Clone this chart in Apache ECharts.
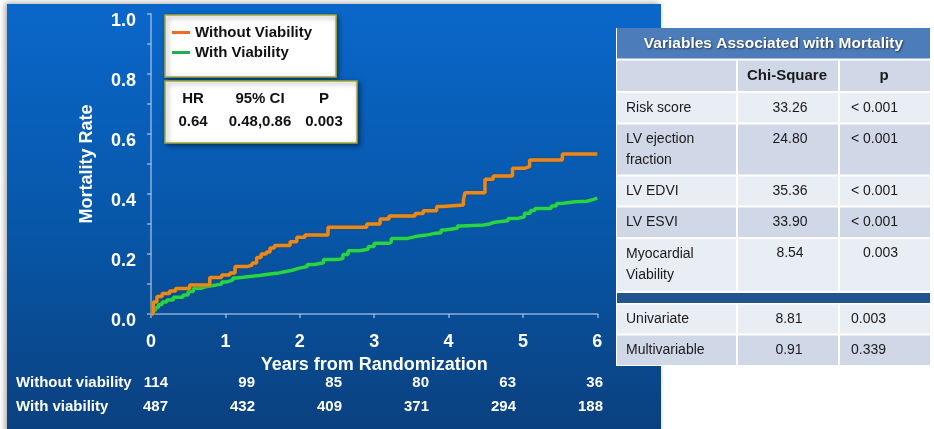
<!DOCTYPE html>
<html>
<head>
<meta charset="utf-8">
<script src="https://cdn.jsdelivr.net/npm/echarts@6/dist/echarts.min.js"></script>
<style>
html,body{margin:0;padding:0;background:#fff;}
#chart{width:934px;height:429px;}
</style>
</head>
<body>
<div id="chart"></div>
<script>
// Cumulative mortality (Kaplan-Meier steps): [years, rate]
const withoutViability = [
  [0,0],[0.03,0.04],[0.08,0.058],[0.15,0.068],[0.25,0.077],[0.33,0.085],[0.52,0.097],
  [0.79,0.122],[0.95,0.13],[1.06,0.137],[1.13,0.158],[1.29,0.163],[1.36,0.17],[1.42,0.188],
  [1.48,0.2],[1.55,0.207],[1.6,0.22],[1.66,0.228],[1.87,0.241],[1.96,0.256],[2.07,0.263],
  [2.38,0.289],[2.9,0.3],[3.08,0.317],[3.2,0.327],[3.55,0.335],[3.66,0.344],[3.84,0.358],
  [3.92,0.363],[4.2,0.38],[4.22,0.404],[4.49,0.449],[4.6,0.46],[4.86,0.486],[5.03,0.491],
  [5.09,0.513],[5.53,0.533],[6.0,0.533]
];
const withViability = [
  [0,0],[0.03,0.012],[0.06,0.022],[0.1,0.032],[0.15,0.04],[0.21,0.047],[0.3,0.056],[0.43,0.063],
  [0.5,0.075],[0.57,0.086],[0.68,0.092],[0.75,0.097],[0.88,0.1],[0.95,0.107],[1.02,0.113],
  [1.1,0.12],[1.15,0.124],[1.3,0.128],[1.45,0.133],[1.6,0.137],[1.72,0.141],[1.8,0.146],
  [1.9,0.152],[1.98,0.158],[2.1,0.165],[2.2,0.171],[2.32,0.182],[2.52,0.185],[2.58,0.198],
  [2.65,0.211],[2.8,0.216],[2.92,0.225],[3.0,0.236],[3.2,0.24],[3.23,0.252],[3.45,0.258],
  [3.55,0.263],[3.7,0.268],[3.8,0.271],[3.9,0.28],[3.95,0.286],[4.12,0.293],[4.18,0.297],
  [4.47,0.3],[4.55,0.306],[4.62,0.311],[4.8,0.318],[4.92,0.324],[5.02,0.336],[5.1,0.345],
  [5.16,0.352],[5.38,0.36],[5.45,0.368],[5.52,0.374],[5.7,0.376],[5.86,0.382],[5.95,0.386],
  [6.0,0.386]
];
const seriesNames = ['Without Viability', 'With Viability'];

// Numbers at risk
const atRiskGroups = ['Without viability', 'With viability'];
const atRiskWithout = [114, 99, 85, 80, 63, 36];
const atRiskWith = [487, 432, 409, 371, 294, 188];

// Hazard ratio box
const hrHeader = ['HR', '95% CI', 'P'];
const hrValues = ['0.64', '0.48,0.86', '0.003'];

// Side table
const tableTitle = 'Variables Associated with Mortality';
const tableColumns = ['Chi-Square', 'p'];
const tableVariables = ['Risk score', 'LV ejection\nfraction', 'LV EDVI', 'LV ESVI', 'Myocardial\nViability'];
const tableChiSquare = ['33.26', '24.80', '35.36', '33.90', '8.54'];
const tableP = ['< 0.001', '< 0.001', '< 0.001', '< 0.001', '0.003'];
const testNames = ['Univariate', 'Multivariable'];
const testChiSquare = ['8.81', '0.91'];
const testP = ['0.003', '0.339'];

const FONT = '"Liberation Sans", Arial, sans-serif';
const chart = echarts.init(document.getElementById('chart'), null, { renderer: 'canvas' });

const graphics = [];

// blue panel behind the plot
graphics.push({
  type: 'rect', z: -10,
  shape: { x: 7, y: 4, width: 654, height: 440 },
  style: {
    fill: new echarts.graphic.LinearGradient(0, 0, 0, 1, [
      { offset: 0, color: '#0a67ca' },
      { offset: 0.5, color: '#0757a9' },
      { offset: 1, color: '#0b3f7c' }
    ]),
    shadowBlur: 6, shadowColor: 'rgba(0,0,0,0.35)', shadowOffsetX: -2, shadowOffsetY: -1
  }
});

// hazard ratio box
graphics.push({
  type: 'rect', z: 10,
  shape: { x: 165, y: 81, width: 192, height: 62 },
  style: { fill: '#fff', stroke: '#a4a83a', lineWidth: 1.5, shadowBlur: 5, shadowColor: 'rgba(0,0,0,0.45)', shadowOffsetX: 2, shadowOffsetY: 2 }
});
const hrCols = [193, 260, 324];
hrHeader.forEach((t, i) => graphics.push({
  type: 'text', z: 11,
  style: { text: t, x: hrCols[i], y: 99, align: 'center', verticalAlign: 'middle', fill: '#111', font: 'bold 15px ' + FONT }
}));
hrValues.forEach((t, i) => graphics.push({
  type: 'text', z: 11,
  style: { text: t, x: hrCols[i], y: 122, align: 'center', verticalAlign: 'middle', fill: '#111', font: 'bold 15px ' + FONT }
}));

// numbers at risk
[atRiskWithout, atRiskWith].forEach((row, r) => {
  const y = r === 0 ? 383 : 407;
  graphics.push({
    type: 'text', z: 5,
    style: { text: atRiskGroups[r], x: 16, y: y, verticalAlign: 'middle', fill: '#fff', font: 'bold 15px ' + FONT }
  });
  row.forEach((v, i) => graphics.push({
    type: 'text', z: 5,
    style: { text: String(v), x: 168 + i * 87, y: y, align: 'right', verticalAlign: 'middle', fill: '#fff', font: 'bold 15px ' + FONT }
  }));
});

// side table
const tx0 = 616, tx1 = 931;
const colX = [616, 737, 839, 931];
graphics.push({ type: 'rect', z: 20, shape: { x: tx0, y: 28, width: tx1 - tx0, height: 338 }, style: { fill: '#fff' } });
graphics.push({ type: 'rect', z: 21, shape: { x: tx0 + 1, y: 28, width: tx1 - tx0 - 2, height: 30.5 }, style: { fill: '#4c7cba' } });
graphics.push({
  type: 'text', z: 22,
  style: { text: tableTitle, x: (tx0 + tx1) / 2, y: 44, align: 'center', verticalAlign: 'middle', fill: '#fff',
    font: 'bold 15.5px ' + FONT, textShadowColor: 'rgba(0,0,0,0.55)', textShadowBlur: 2, textShadowOffsetX: 1, textShadowOffsetY: 1 }
});
const light = '#e9edf4', dark = '#d0d8e8';
function cellRow(top, bottom, fill) {
  for (let c = 0; c < 3; c++) {
    graphics.push({ type: 'rect', z: 21, shape: { x: colX[c] + 1, y: top + 1, width: colX[c + 1] - colX[c] - 2, height: bottom - top - 2 }, style: { fill: fill } });
  }
}
function cellText(t, x, y, align, bold) {
  graphics.push({ type: 'text', z: 22, style: { text: t, x: x, y: y, align: align, verticalAlign: 'middle', fill: '#1a1a1a',
    font: (bold ? 'bold 15px ' : '14px ') + FONT, lineHeight: 20 } });
}
// column header row
cellRow(59.5, 92, dark);
cellText(tableColumns[0], 787, 76, 'center', true);
cellText(tableColumns[1], 884, 76, 'center', true);
// variable rows
const rowEdges = [92, 123.5, 175.5, 206.5, 238, 292];
tableVariables.forEach((name, i) => {
  const top = rowEdges[i], bottom = rowEdges[i + 1];
  cellRow(top, bottom, i % 2 === 0 ? light : dark);
  const multi = name.indexOf('\n') >= 0;
  const y = multi ? top + 15.5 : (top + bottom) / 2;
  graphics.push({ type: 'text', z: 22, style: { text: name, x: 626, y: multi ? top + 5.5 : y, align: 'left', verticalAlign: multi ? 'top' : 'middle',
    fill: '#1a1a1a', font: '14px ' + FONT, lineHeight: 21 } });
  cellText(tableChiSquare[i], 790, y, 'center', false);
  if (tableP[i].indexOf('<') === 0) cellText(tableP[i], 851, y, 'left', false);
  else cellText(tableP[i], 863, y, 'left', false);
});
// separator band
graphics.push({ type: 'rect', z: 21, shape: { x: tx0 + 1, y: 293, width: tx1 - tx0 - 2, height: 10 }, style: { fill: '#235490' } });
// test rows
const testEdges = [303.5, 334.5, 366];
testNames.forEach((name, i) => {
  const top = testEdges[i], bottom = testEdges[i + 1];
  cellRow(top, bottom, i % 2 === 0 ? light : dark);
  const y = (top + bottom) / 2;
  cellText(name, 626, y, 'left', false);
  cellText(testChiSquare[i], 789, y, 'center', false);
  cellText(testP[i], 851, y, 'left', false);
});

const axisColor = 'rgba(185,208,238,0.55)';

const option = {
  backgroundColor: '#ffffff',
  animation: false,
  textStyle: { fontFamily: FONT },
  grid: { left: 151, top: 14, width: 446.3, height: 300, containLabel: false },
  legend: {
    orient: 'vertical', left: 165, top: 15,
    itemWidth: 18, itemHeight: 3, itemGap: 3, icon: 'rect',
    padding: [9, 24, 16, 7],
    backgroundColor: '#fff', borderColor: '#a4a83a', borderWidth: 1.5,
    shadowBlur: 5, shadowColor: 'rgba(0,0,0,0.45)', shadowOffsetX: 2, shadowOffsetY: 2,
    textStyle: { color: '#111', fontWeight: 'bold', fontSize: 15, lineHeight: 17, fontFamily: FONT },
    data: [
      { name: seriesNames[0], itemStyle: { color: '#f26a1f' } },
      { name: seriesNames[1], itemStyle: { color: '#1fae52' } }
    ],
    z: 10
  },
  xAxis: {
    type: 'value', min: 0, max: 6, interval: 1,
    name: 'Years from Randomization', nameLocation: 'middle', nameGap: 42,
    nameTextStyle: { color: '#fff', fontWeight: 'bold', fontSize: 18, fontFamily: FONT },
    axisLine: { show: true, lineStyle: { color: axisColor, width: 2 } },
    axisTick: { show: true, length: 4, lineStyle: { color: axisColor, width: 2 } },
    axisLabel: { color: '#fff', fontWeight: 'bold', fontSize: 18, margin: 19, fontFamily: FONT },
    splitLine: { show: false }
  },
  yAxis: {
    type: 'value', min: 0, max: 1, interval: 0.2,
    name: 'Mortality Rate', nameLocation: 'middle', nameGap: 55, nameRotate: 90,
    nameTextStyle: { color: '#fff', fontWeight: 'bold', fontSize: 18, fontFamily: FONT },
    axisLine: { show: true, lineStyle: { color: axisColor, width: 2 } },
    axisTick: { show: true, length: 4, lineStyle: { color: axisColor, width: 2 } },
    minorTick: { show: true, splitNumber: 2, length: 4, lineStyle: { color: axisColor, width: 2 } },
    axisLabel: { color: '#fff', fontWeight: 'bold', fontSize: 18, margin: 15,
      verticalAlign: 'top', lineHeight: 14,
      formatter: v => v.toFixed(1), fontFamily: FONT },
    splitLine: { show: false }
  },
  series: [
    {
      name: seriesNames[0], type: 'line', step: 'end', data: withoutViability,
      showSymbol: false, symbol: 'none',
      lineStyle: { color: '#e8891d', width: 3.5, shadowBlur: 2, shadowColor: 'rgba(120,60,0,0.6)' },
      itemStyle: { color: '#e8891d' }, z: 3
    },
    {
      name: seriesNames[1], type: 'line', step: 'end', data: withViability,
      showSymbol: false, symbol: 'none',
      lineStyle: { color: '#27d447', width: 3.5, shadowBlur: 2, shadowColor: 'rgba(0,90,30,0.5)' },
      itemStyle: { color: '#27d447' }, z: 2
    }
  ],
  graphic: { elements: graphics }
};
chart.setOption(option);
</script>
</body>
</html>
